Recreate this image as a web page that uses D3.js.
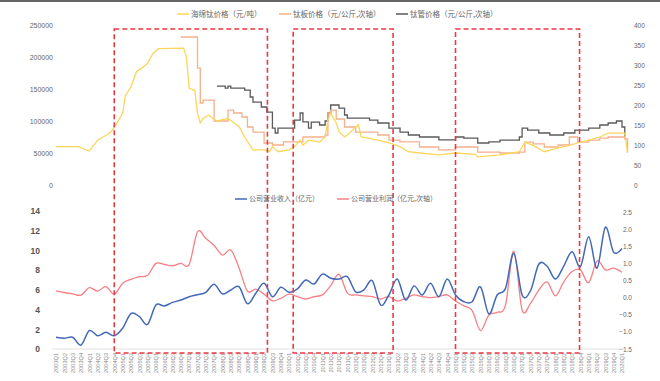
<!DOCTYPE html>
<html>
<head>
<meta charset="utf-8">
<script src="https://cdn.jsdelivr.net/npm/d3@7"></script>
<style>
  body { margin: 0; background: #fff; }
  svg { display: block; font-family: 'Liberation Sans', 'Noto Sans CJK SC', sans-serif; }
</style>
</head>
<body>
<div id="graf"></div>
<script>
const W = 660
const H = 381

// ---- top chart: prices (date 'YYYY-MM', value)
const spongeTi = [
  ['2003-01', 60000], ['2003-09', 60000], ['2004-01', 53000], ['2004-04', 70000],
  ['2004-08', 80000], ['2004-09', 84000], ['2004-11', 97000], ['2005-01', 112000],
  ['2005-02', 140000], ['2005-04', 153000], ['2005-06', 177000], ['2005-08', 183000],
  ['2005-10', 190000], ['2005-12', 206000], ['2006-02', 213000], ['2006-11', 214000],
  ['2006-12', 200000], ['2007-01', 151000], ['2007-03', 148000], ['2007-04', 112000],
  ['2007-05', 97000], ['2007-06', 104000], ['2007-08', 109000], ['2007-11', 100000],
  ['2008-03', 104000], ['2008-07', 91000], ['2008-09', 75000], ['2008-12', 55000],
  ['2009-04', 55000], ['2009-06', 52000], ['2009-07', 60000], ['2009-09', 52000],
  ['2010-01', 55000], ['2010-03', 60000], ['2010-05', 70000], ['2010-06', 62000],
  ['2010-08', 70000], ['2010-12', 67000], ['2011-02', 75000], ['2011-03', 101000],
  ['2011-04', 112000], ['2011-06', 97000], ['2011-07', 83000], ['2011-09', 75000],
  ['2011-10', 78000], ['2012-02', 94000], ['2012-03', 75000], ['2012-06', 73000],
  ['2012-09', 70000], ['2013-01', 66000], ['2013-05', 60000], ['2013-08', 52000],
  ['2013-12', 50000], ['2014-07', 47000], ['2015-01', 50000], ['2015-08', 48000],
  ['2015-09', 44000], ['2016-05', 47000], ['2016-12', 52000], ['2017-02', 67000],
  ['2017-05', 62000], ['2017-09', 52000], ['2018-02', 58000], ['2018-06', 62000],
  ['2018-10', 67000], ['2019-01', 70000], ['2019-05', 75000], ['2019-08', 81000],
  ['2020-02', 81000], ['2020-03', 50000]
]

const tiPlate = [
  ['2006-10', 370], ['2007-04', 292], ['2007-05', 205], ['2007-06', 212],
  ['2007-10', 160], ['2008-03', 187], ['2008-05', 180], ['2008-08', 170],
  ['2008-10', 145], ['2008-12', 132], ['2009-04', 105], ['2009-07', 100],
  ['2009-11', 108], ['2010-06', 120], ['2011-02', 125], ['2011-03', 180],
  ['2011-04', 187], ['2011-06', 165], ['2011-09', 145], ['2012-01', 132],
  ['2012-09', 125], ['2013-01', 112], ['2013-05', 108], ['2013-12', 95],
  ['2014-07', 88], ['2015-01', 95], ['2015-09', 82], ['2016-05', 80],
  ['2016-12', 82], ['2017-02', 107], ['2017-05', 103], ['2017-09', 95],
  ['2018-02', 100], ['2018-06', 120], ['2018-09', 107], ['2019-01', 112],
  ['2019-05', 117], ['2019-08', 120], ['2020-02', 115], ['2020-03', 82]
]

const tiTube = [
  ['2007-11', 247], ['2008-02', 242], ['2008-03', 247], ['2008-04', 242],
  ['2008-09', 237], ['2008-11', 220], ['2008-12', 207], ['2009-03', 195],
  ['2009-05', 182], ['2009-07', 142], ['2009-08', 130], ['2009-09', 142],
  ['2010-03', 162], ['2010-05', 180], ['2010-06', 158], ['2010-08', 142],
  ['2010-09', 157], ['2010-12', 150], ['2011-02', 160], ['2011-03', 180],
  ['2011-04', 200], ['2011-07', 192], ['2011-09', 175], ['2011-10', 167],
  ['2012-06', 162], ['2012-09', 155], ['2013-01', 142], ['2013-05', 132],
  ['2013-08', 125], ['2013-12', 120], ['2014-07', 113], ['2015-01', 120],
  ['2015-04', 117], ['2015-09', 105], ['2016-01', 108], ['2016-05', 112],
  ['2016-12', 120], ['2017-01', 142], ['2017-03', 137], ['2017-07', 130],
  ['2017-11', 125], ['2018-04', 130], ['2018-08', 137], ['2019-01', 142],
  ['2019-05', 150], ['2019-08', 155], ['2019-11', 160], ['2020-01', 145],
  ['2020-02', 120]
]

// ---- bottom chart: quarterly
const years = d3.range(2003, 2021)
const quarters = years.flatMap(y => ['Q1', 'Q2', 'Q3', 'Q4'].map(q => y + q)).slice(0, 69)

const revenue = [
  1.19, 1.08, 1.19, 0.4, 1.86, 1.35, 1.69, 1.35, 2.1, 3.6, 3.3, 2.5,
  4.46, 4.36, 4.73, 4.97, 5.3, 5.5, 5.75, 6.56, 5.58, 5.99, 6.3, 4.6,
  5.65, 6.66, 5.3, 6.26, 5.75, 6.09, 7.0, 6.6, 7.6, 7.17, 7.1, 7.34,
  5.8, 6.0, 6.93, 4.46, 5.48, 7.1, 4.97, 6.4, 5.48, 6.66, 5.3, 7.1,
  5.48, 4.8, 4.8, 6.3, 3.55, 5.48, 6.15, 9.7, 5.48, 5.9, 8.6, 8.4,
  7.1, 8.4, 9.87, 8.35, 11.4, 8.2, 12.35, 9.8, 10.2
]

const profit = [
  0.2, 0.15, 0.11, 0.07, 0.29, 0.19, 0.32, 0.1, 0.42, 0.53, 0.61, 0.65,
  1.0, 0.97, 0.93, 1.0, 0.97, 1.92, 1.73, 1.52, 1.24, 1.39, 0.86, 0.19,
  0.25, 0.1, -0.09, -0.02, 0.1, 0.03, -0.04, 0.03, 0.08, 0.35, 0.68, 0.13,
  0.08, 0.05, 0.03, -0.04, 0.03, -0.1, -0.02, 0.08, 0.03, 0, 0.03, 0.08,
  -0.1, -0.24, -0.38, -0.96, -0.51, -0.43, -0.22, 1.36, -0.36, -0.17, 0.22, 0.46,
  0.05, 0.46, 0.76, 0.81, 0.44, 1.07, 0.81, 0.86, 0.74
]

// zonas marcadas (indices de trimestre)
const zonas = [[7, 25.4], [28.5, 40.5], [48, 62.9]]

const ticksTopL = [0, 50000, 100000, 150000, 200000, 250000]
const ticksTopR = [0, 50, 100, 150, 200, 250, 300, 350, 400]
const ticksBotL = [0, 2, 4, 6, 8, 10, 12, 14]
const ticksBotR = [-1.5, -1.0, -0.5, 0.0, 0.5, 1.0, 1.5, 2.0, 2.5]

const legendTop = ['海绵钛价格（元/吨）', '钛板价格（元/公斤,次轴）', '钛管价格（元/公斤,次轴）']
const legendBot = ['公司营业收入（亿元）', '公司营业利润（亿元,次轴）']

const colYellow = '#fcd65a'
const colOrange = '#f5b08c'
const colGray = '#595959'
const colBlue = '#4169b8'
const colRed = '#f87f84'
const colDash = '#e83a44'

const svg = d3.select('#graf').append('svg')
  .attr('width', W)
  .attr('height', H)

svg.append('rect').attr('width', W).attr('height', 2).attr('fill', '#666')

// scales
const toYear = s => {
  const [y, m] = s.split('-').map(Number)
  return y + (m - 1) / 12
}
const xT = d3.scaleLinear().domain([2003, 2020]).range([56, 622])
const xQ = d3.scalePoint().domain(quarters).range([56, 622])
const xIdx = d3.scaleLinear().domain([0, quarters.length - 1]).range([56, 622])

const yTL = d3.scaleLinear().domain([0, 250000]).range([185, 25])
const yTR = d3.scaleLinear().domain([0, 400]).range([185, 25])
const yBL = d3.scaleLinear().domain([0, 14]).range([349, 211])
const yBR = d3.scaleLinear().domain([-1.5, 2.5]).range([349, 212])

// axes
function eje(gen, x, anchor, size, color, fmt, weight) {
  const g = svg.append('g')
    .attr('transform', `translate(${x},0)`)
    .call(gen.tickSize(0).tickPadding(0).tickFormat(fmt))
  g.select('.domain').remove()
  g.selectAll('text')
    .attr('x', 0)
    .attr('text-anchor', anchor)
    .attr('font-size', size)
    .attr('fill', color)
    .attr('font-weight', weight || 'normal')
    .style('font-family', "'Liberation Sans', sans-serif")
}

eje(d3.axisLeft(yTL).tickValues(ticksTopL), 53, 'end', 7, '#666', d3.format('d'))
eje(d3.axisRight(yTR).tickValues(ticksTopR), 634, 'start', 6.5, '#666', d3.format('d'))
eje(d3.axisLeft(yBL).tickValues(ticksBotL), 40, 'end', 8.5, '#555', d3.format('d'), 'bold')
eje(d3.axisRight(yBR).tickValues(ticksBotR), 632, 'end', 6.5, '#666', d3.format('.1f'))

// baseline of bottom chart
svg.append('line')
  .attr('x1', 52).attr('x2', 626)
  .attr('y1', yBL(0)).attr('y2', yBL(0))
  .attr('stroke', '#d9d9d9').attr('stroke-width', 0.8)

// x labels
const xAxisG = svg.append('g')
  .attr('transform', `translate(0, ${yBL(0) + 4})`)
  .call(d3.axisBottom(xQ).tickSize(0).tickPadding(0))
xAxisG.select('.domain').remove()
xAxisG.selectAll('text')
  .attr('text-anchor', 'end')
  .attr('transform', 'rotate(-90)')
  .attr('x', 0)
  .attr('y', 0)
  .attr('dy', '0.32em')
  .attr('font-size', 5.6)
  .attr('fill', '#888')

// top lines
const lineTL = d3.line().x(d => xT(toYear(d[0]))).y(d => yTL(d[1]))
const lineTR = d3.line().x(d => xT(toYear(d[0]))).y(d => yTR(d[1])).curve(d3.curveStepAfter)

svg.append('path').datum(tiTube)
  .attr('d', lineTR).attr('fill', 'none').attr('stroke', colGray).attr('stroke-width', 1.3)
svg.append('path').datum(tiPlate)
  .attr('d', lineTR).attr('fill', 'none').attr('stroke', colOrange).attr('stroke-width', 1.3)
svg.append('path').datum(spongeTi)
  .attr('d', lineTL).attr('fill', 'none').attr('stroke', colYellow).attr('stroke-width', 1.3)

// bottom lines
const lineBL = d3.line().x((d, i) => xQ(quarters[i])).y(d => yBL(d)).curve(d3.curveCardinal)
const lineBR = d3.line().x((d, i) => xQ(quarters[i])).y(d => yBR(d)).curve(d3.curveCardinal)

svg.append('path').datum(profit)
  .attr('d', lineBR).attr('fill', 'none').attr('stroke', colRed).attr('stroke-width', 1.3)
svg.append('path').datum(revenue)
  .attr('d', lineBL).attr('fill', 'none').attr('stroke', colBlue).attr('stroke-width', 1.5)

// dashed zones
svg.selectAll('.zona').data(zonas).enter()
  .append('rect')
  .attr('class', 'zona')
  .attr('x', d => xIdx(d[0]))
  .attr('y', 29)
  .attr('width', d => xIdx(d[1]) - xIdx(d[0]))
  .attr('height', 353 - 29)
  .attr('fill', 'none')
  .attr('stroke', colDash)
  .attr('stroke-width', 1.6)
  .attr('stroke-dasharray', '5,3')

// legends
function leyenda(items, colors, xs, y, size) {
  items.forEach((t, i) => {
    svg.append('line')
      .attr('x1', xs[i]).attr('x2', xs[i] + 12)
      .attr('y1', y).attr('y2', y)
      .attr('stroke', colors[i]).attr('stroke-width', 1.5)
    svg.append('text')
      .attr('x', xs[i] + 14).attr('y', y)
      .attr('dy', '0.35em')
      .attr('font-size', size)
      .attr('fill', '#666')
      .style('font-family', "'Noto Sans CJK SC', sans-serif")
      .text(t)
  })
}

leyenda(legendTop, [colYellow, colOrange, colGray], [177, 279, 396], 14, 7.5)
leyenda(legendBot, [colBlue, colRed], [235, 337], 199, 7)
</script>
</body>
</html>
